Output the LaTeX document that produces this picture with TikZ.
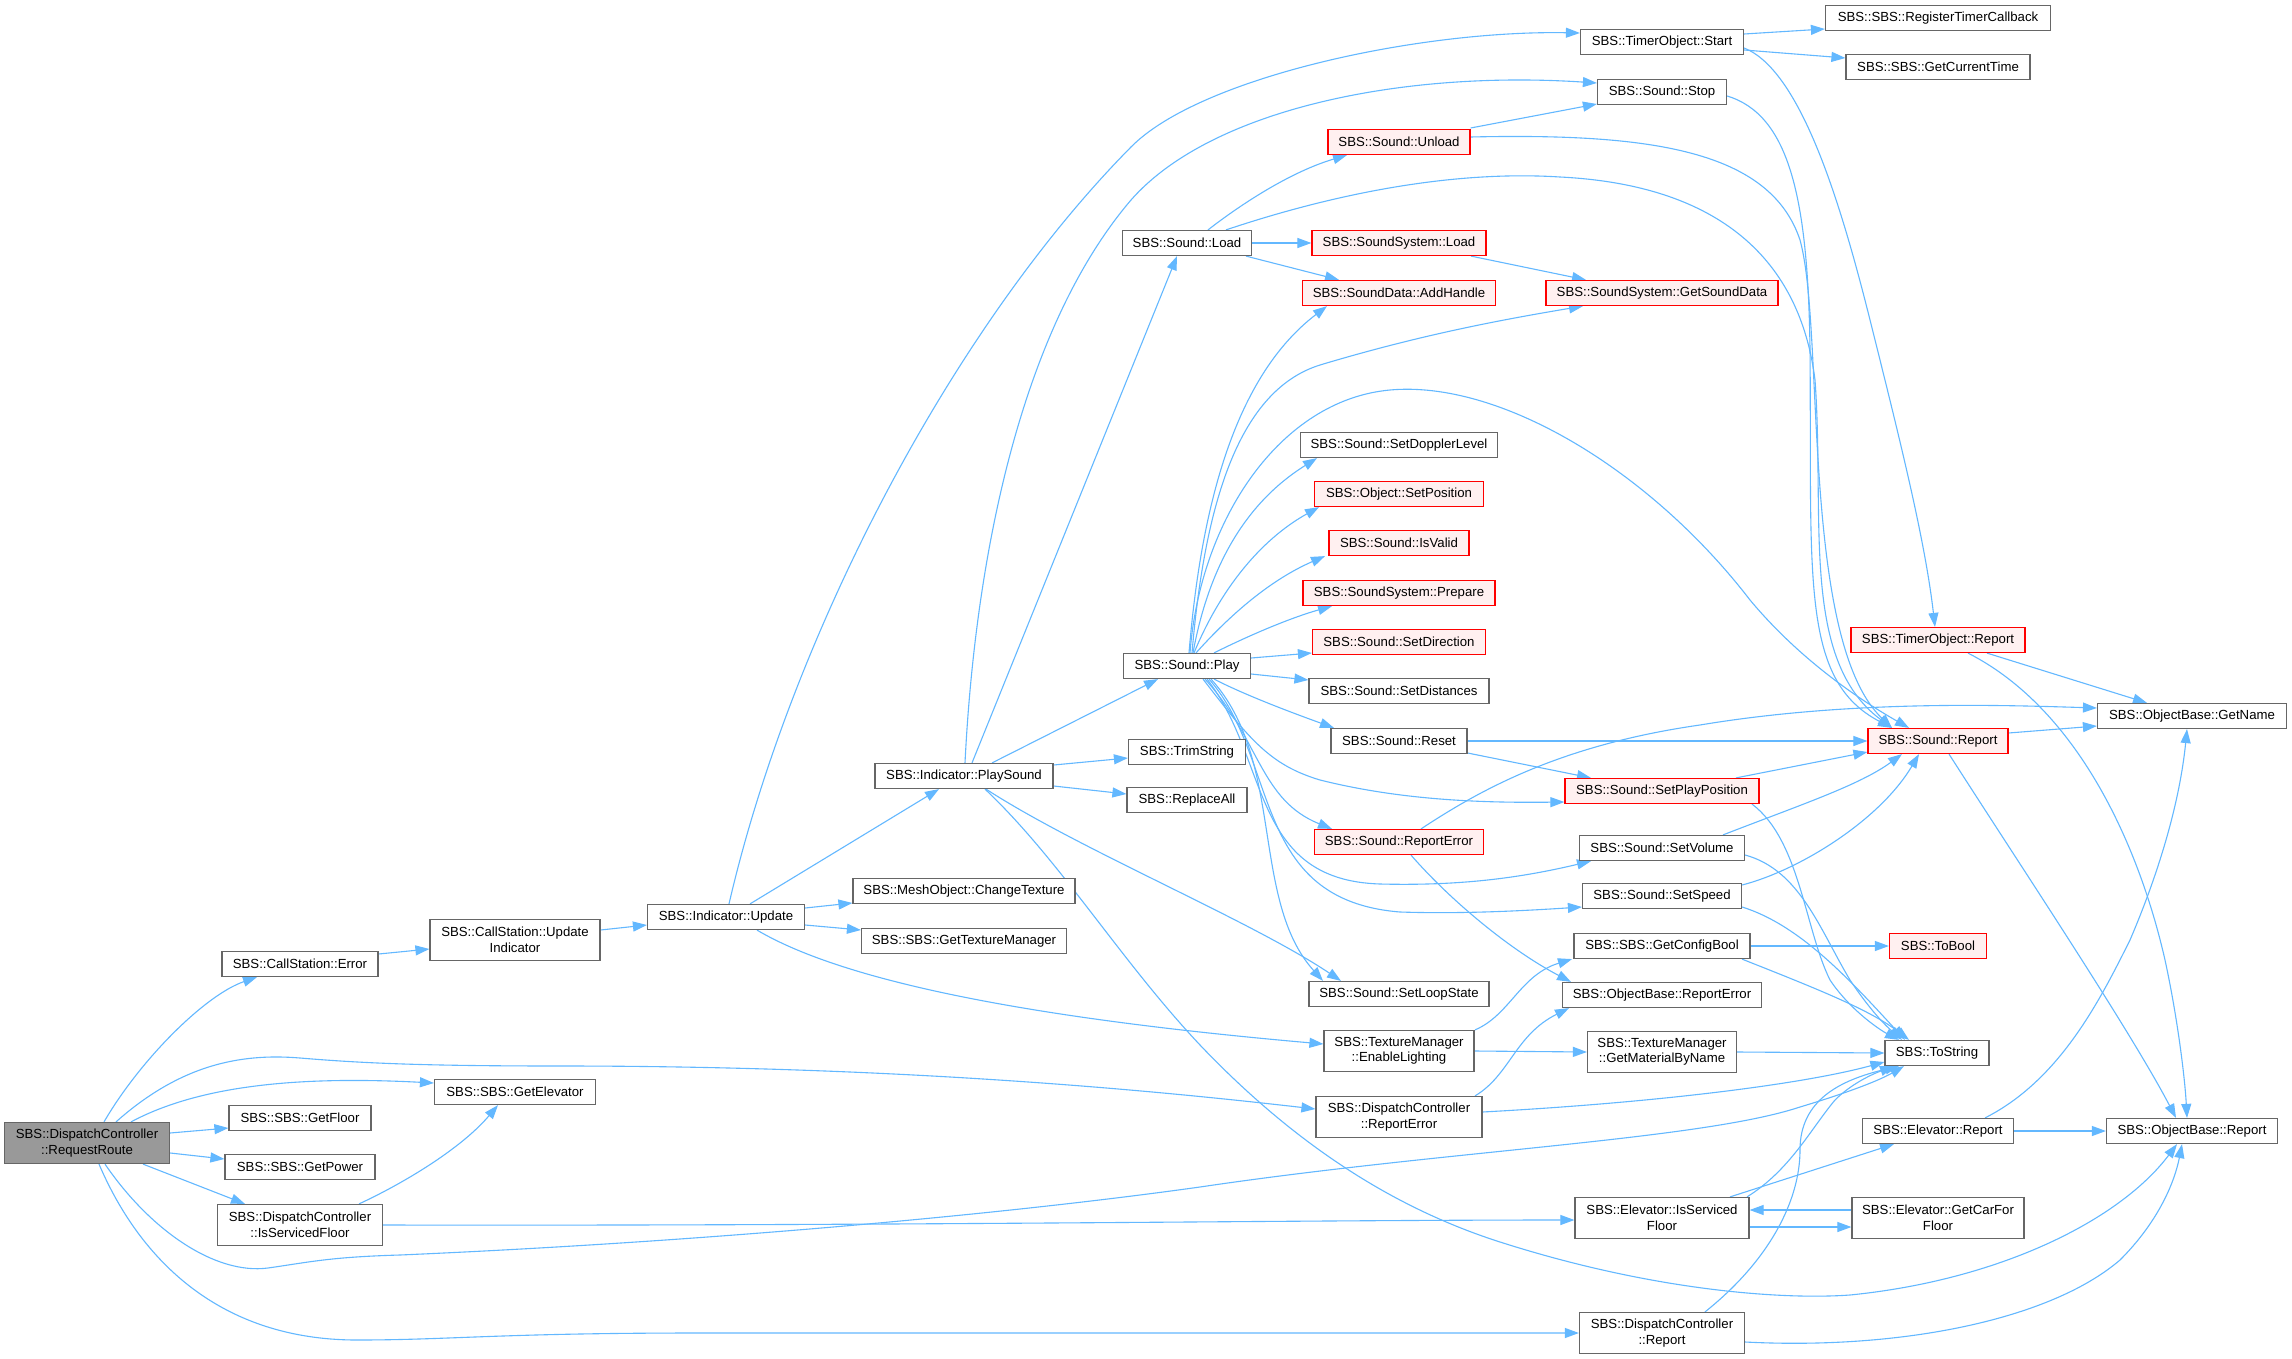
\documentclass[tikz,border=0pt]{standalone}
\usepackage{fontspec}
\setmainfont{Liberation Sans}
\usetikzlibrary{arrows.meta,calc}
\definecolor{edgeblue}{HTML}{63B8FF}
\definecolor{boxgray}{HTML}{666666}
\definecolor{redfill}{HTML}{FFF0F0}
\definecolor{rootfill}{HTML}{999999}
\pgfdeclarelayer{bglayer}
\pgfdeclarelayer{edgelayer}
\pgfsetlayers{bglayer,edgelayer,main}
\tikzset{
  box/.style={rectangle, draw=boxgray, line width=1.2pt, fill=white, inner xsep=2pt, inner ysep=0pt,
    minimum height=25pt, align=center, font=\fontsize{13.2}{15.5}\selectfont, text=black},
  two/.style={minimum height=41pt},
  redbox/.style={draw=red, fill=redfill},
  rootbox/.style={fill=rootfill},
  call/.style={draw=edgeblue, line width=1.1pt, -{Triangle[length=14pt,width=10pt]}}
}
\begin{document}
\begin{tikzpicture}[x=1pt,y=-1pt]
\begin{pgfonlayer}{bglayer}
\fill[white] (0,0) rectangle (2292,1359);
\end{pgfonlayer}
\useasboundingbox (0,0) rectangle (2292,1359);
% column 1
\node[box,two,rootbox,minimum width=165pt] (RR) at (87,1143) {SBS::DispatchController\\::RequestRoute};
% column 2
\node[box,minimum width=156pt] (CSErr) at (300,964) {SBS::CallStation::Error};
\node[box,minimum width=142pt] (GetFloor) at (300,1118) {SBS::SBS::GetFloor};
\node[box,minimum width=150pt] (GetPower) at (300,1167) {SBS::SBS::GetPower};
\node[box,two,minimum width=165pt] (DCIsSF) at (300,1225) {SBS::DispatchController\\::IsServicedFloor};
% column 3
\node[box,two,minimum width=170pt] (CSUpd) at (515,940) {SBS::CallStation::Update\\Indicator};
\node[box,minimum width=161pt] (GetElev) at (515,1092) {SBS::SBS::GetElevator};
% column 4
\node[box,minimum width=157pt] (IndUpd) at (726,917) {SBS::Indicator::Update};
% column 5
\node[box,minimum width=178pt] (PlaySnd) at (964,776) {SBS::Indicator::PlaySound};
\node[box,minimum width=222pt] (ChgTex) at (964,891) {SBS::MeshObject::ChangeTexture};
\node[box,minimum width=205pt] (GetTexMgr) at (964,941) {SBS::SBS::GetTextureManager};
% column 6
\node[box,minimum width=129pt] (SLoad) at (1187,243) {SBS::Sound::Load};
\node[box,minimum width=127pt] (SPlay) at (1187,666) {SBS::Sound::Play};
\node[box,minimum width=117pt] (Trim) at (1187,752) {SBS::TrimString};
\node[box,minimum width=120pt] (Repl) at (1187,800) {SBS::ReplaceAll};
% column 7
\node[box,redbox,minimum width=142pt] (Unload) at (1399,142) {SBS::Sound::Unload};
\node[box,redbox,minimum width=174pt] (SSLoad) at (1399,243) {SBS::SoundSystem::Load};
\node[box,redbox,minimum width=193pt] (AddH) at (1399,293) {SBS::SoundData::AddHandle};
\node[box,minimum width=197pt] (Doppler) at (1399,445) {SBS::Sound::SetDopplerLevel};
\node[box,redbox,minimum width=169pt] (SetPos) at (1399,494) {SBS::Object::SetPosition};
\node[box,redbox,minimum width=140pt] (IsValid) at (1399,543) {SBS::Sound::IsValid};
\node[box,redbox,minimum width=192pt] (Prep) at (1399,593) {SBS::SoundSystem::Prepare};
\node[box,redbox,minimum width=173pt] (SetDir) at (1399,642) {SBS::Sound::SetDirection};
\node[box,minimum width=180pt] (SetDist) at (1399,691) {SBS::Sound::SetDistances};
\node[box,minimum width=136pt] (Reset) at (1399,741) {SBS::Sound::Reset};
\node[box,redbox,minimum width=169pt] (SRepErr) at (1399,842) {SBS::Sound::ReportError};
\node[box,minimum width=180pt] (Loop) at (1399,994) {SBS::Sound::SetLoopState};
\node[box,two,minimum width=150pt] (EnLight) at (1399,1051) {SBS::TextureManager\\::EnableLighting};
\node[box,two,minimum width=166pt] (DCRepErr) at (1399,1117) {SBS::DispatchController\\::ReportError};
% column 8
\node[box,minimum width=163pt] (TStart) at (1662,42) {SBS::TimerObject::Start};
\node[box,minimum width=129pt] (Stop) at (1662,92) {SBS::Sound::Stop};
\node[box,redbox,minimum width=232pt] (GetSD) at (1662,293) {SBS::SoundSystem::GetSoundData};
\node[box,redbox,minimum width=194pt] (SetPP) at (1662,791) {SBS::Sound::SetPlayPosition};
\node[box,minimum width=165pt] (SetVol) at (1662,848) {SBS::Sound::SetVolume};
\node[box,minimum width=159pt] (SetSpd) at (1662,896) {SBS::Sound::SetSpeed};
\node[box,minimum width=176pt] (GetCB) at (1662,946) {SBS::SBS::GetConfigBool};
\node[box,minimum width=199pt] (OBRepErr) at (1662,995) {SBS::ObjectBase::ReportError};
\node[box,two,minimum width=149pt] (GetMat) at (1662,1052) {SBS::TextureManager\\::GetMaterialByName};
\node[box,two,minimum width=174pt] (EIsSF) at (1662,1218) {SBS::Elevator::IsServiced\\Floor};
\node[box,two,minimum width=165pt] (DCRep) at (1662,1333) {SBS::DispatchController\\::Report};
% column 9
\node[box,minimum width=225pt] (RegTC) at (1938,18) {SBS::SBS::RegisterTimerCallback};
\node[box,minimum width=184pt] (GetCT) at (1938,67) {SBS::SBS::GetCurrentTime};
\node[box,redbox,minimum width=174pt] (TRep) at (1938,640) {SBS::TimerObject::Report};
\node[box,redbox,minimum width=140pt] (SRep) at (1938,741) {SBS::Sound::Report};
\node[box,redbox,minimum width=97pt] (ToBool) at (1938,946) {SBS::ToBool};
\node[box,minimum width=104pt] (ToStr) at (1937,1053) {SBS::ToString};
\node[box,minimum width=151pt] (ERep) at (1938,1131) {SBS::Elevator::Report};
\node[box,two,minimum width=172pt] (CarFF) at (1938,1218) {SBS::Elevator::GetCarFor\\Floor};
% column 10
\node[box,minimum width=189pt] (GetName) at (2192,716) {SBS::ObjectBase::GetName};
\node[box,minimum width=171pt] (OBRep) at (2192,1131) {SBS::ObjectBase::Report};

\begin{pgfonlayer}{edgelayer}
% from RequestRoute
\draw[call] ($(RR.north)+(17,0)$) .. controls (140,1060) and (205,995) .. ($(CSErr.south)+(-43,0)$);
\draw[call] ($(RR.east)+(0,-10)$) -- ($(GetFloor.west)+(0,10)$);
\draw[call] ($(RR.east)+(0,10)$) -- ($(GetPower.west)+(0,-8)$);
\draw[call] ($(RR.south)+(56,0)$) -- ($(DCIsSF.north)+(-55,0)$);
\draw[call] ($(RR.north)+(44,0)$) .. controls (200,1085) and (300,1076) .. ($(GetElev.west)+(0,-9)$);
\draw[call] ($(RR.north)+(29,0)$) .. controls (180,1065) and (240,1053) .. (300,1058) .. controls (360,1063) and (420,1066) .. (560,1066) .. controls (900,1066) and (1150,1090) .. ($(DCRepErr.west)+(0,-8)$);
\draw[call] ($(RR.south)+(18,0)$) .. controls (150,1230) and (215,1275) .. (268,1268) .. controls (310,1262) and (330,1257) .. (400,1255) .. controls (700,1242) and (1000,1215) .. (1200,1187) .. controls (1450,1150) and (1700,1140) .. (1800,1107) .. controls (1850,1092) and (1880,1080) .. ($(ToStr.south)+(-33,0)$);
\draw[call] ($(RR.south)+(12,0)$) .. controls (140,1260) and (220,1340) .. (357,1340) .. controls (450,1340) and (500,1333) .. (700,1333) -- (DCRep.west);
% DispatchController::IsServicedFloor
\draw[call] ($(DCIsSF.north)+(59,0)$) .. controls (400,1185) and (460,1150) .. ($(GetElev.south)+(-17,0)$);
\draw[call] (DCIsSF.east) .. controls (900,1226) and (1300,1220) .. ($(EIsSF.west)+(0,2)$);
% CallStation
\draw[call] ($(CSErr.east)+(0,-10)$) -- ($(CSUpd.west)+(0,9)$);
\draw[call] ($(CSUpd.east)+(0,-10)$) -- ($(IndUpd.west)+(0,8)$);
% Indicator::Update
\draw[call] ($(IndUpd.north)+(24,0)$) -- ($(PlaySnd.south)+(-25,0)$);
\draw[call] ($(IndUpd.east)+(0,-9)$) -- ($(ChgTex.west)+(0,12)$);
\draw[call] ($(IndUpd.east)+(0,8)$) -- ($(GetTexMgr.west)+(0,-11)$);
\draw[call] ($(IndUpd.south)+(31,0)$) .. controls (850,985) and (1050,1020) .. ($(EnLight.west)+(0,-7)$);
\draw[call] ($(IndUpd.north)+(3,0)$) .. controls (790,640) and (950,330) .. (1131,147) .. controls (1200,77) and (1420,30) .. ($(TStart.west)+(0,-9)$);
% Indicator::PlaySound
\draw[call] ($(PlaySnd.north)+(1,0)$) .. controls (975,560) and (1020,330) .. (1131,200) .. controls (1210,110) and (1400,70) .. ($(Stop.west)+(0,-9)$);
\draw[call] ($(PlaySnd.north)+(8,0)$) -- ($(SLoad.south)+(-10,0)$);
\draw[call] ($(PlaySnd.north)+(28,0)$) -- ($(SPlay.south)+(-29,0)$);
\draw[call] ($(PlaySnd.east)+(0,-11)$) -- ($(Trim.west)+(0,6)$);
\draw[call] ($(PlaySnd.east)+(0,10)$) -- ($(Repl.west)+(0,-6)$);
\draw[call] ($(PlaySnd.south)+(22,0)$) .. controls (1080,850) and (1250,920) .. ($(Loop.north)+(-58,0)$);
\draw[call] ($(PlaySnd.south)+(21,0)$) .. controls (1060,860) and (1120,960) .. (1200,1045) .. controls (1300,1150) and (1400,1210) .. (1500,1242) .. controls (1650,1290) and (1780,1300) .. (1850,1295) .. controls (2000,1280) and (2120,1220) .. ($(OBRep.south)+(-15,0)$);
% Sound::Load
\draw[call] ($(SLoad.north)+(21,0)$) .. controls (1240,205) and (1290,172) .. ($(Unload.south)+(-52,0)$);
\draw[call] (SLoad.east) -- (SSLoad.west);
\draw[call] ($(SLoad.south)+(59,0)$) -- ($(AddH.north)+(-60,0)$);
\draw[call] ($(SLoad.north)+(39,0)$) .. controls (1330,195) and (1450,170) .. (1560,177) .. controls (1720,185) and (1800,260) .. (1815,380) .. controls (1825,520) and (1800,660) .. ($(SRep.north)+(-46,0)$);
% Sound::Unload / Stop
\draw[call] ($(Unload.east)+(0,-14)$) -- ($(Stop.west)+(0,12)$);
\draw[call] ($(Unload.east)+(0,-5)$) .. controls (1650,133) and (1770,150) .. (1800,240) .. controls (1825,330) and (1800,640) .. ($(SRep.north)+(-46,0)$);
\draw[call] ($(Stop.east)+(0,4)$) .. controls (1790,115) and (1808,200) .. (1810,350) .. controls (1812,580) and (1800,680) .. ($(SRep.north)+(-46,0)$);
% TimerObject::Start
\draw[call] ($(TStart.east)+(0,-8)$) -- ($(RegTC.west)+(0,11)$);
\draw[call] ($(TStart.east)+(0,8)$) -- ($(GetCT.west)+(0,-9)$);
\draw[call] ($(TStart.east)+(0,6)$) .. controls (1800,70) and (1840,200) .. (1870,320) .. controls (1900,440) and (1925,540) .. ($(TRep.north)+(-3,0)$);
% SoundSystem::Load
\draw[call] ($(SSLoad.south)+(72,0)$) -- ($(GetSD.north)+(-76,0)$);
% Sound::Play
\draw[call] ($(SPlay.north)+(2,0)$) .. controls (1200,520) and (1230,380) .. ($(AddH.south)+(-72,0)$);
\draw[call] ($(SPlay.north)+(5,0)$) .. controls (1205,500) and (1240,390) .. (1320,365) .. controls (1420,335) and (1500,320) .. ($(GetSD.south)+(-79,0)$);
\draw[call] ($(SPlay.north)+(3,0)$) .. controls (1200,520) and (1280,400) .. (1390,390) .. controls (1500,380) and (1650,470) .. (1750,600) .. controls (1800,660) and (1860,700) .. ($(SRep.north)+(-29,0)$);
\draw[call] ($(SPlay.north)+(6,0)$) .. controls (1210,560) and (1250,500) .. ($(Doppler.south)+(-82,0)$);
\draw[call] ($(SPlay.north)+(7,0)$) .. controls (1220,590) and (1260,540) .. ($(SetPos.south)+(-80,0)$);
\draw[call] ($(SPlay.north)+(9,0)$) .. controls (1230,615) and (1270,580) .. ($(IsValid.south)+(-74,0)$);
\draw[call] ($(SPlay.north)+(27,0)$) .. controls (1250,635) and (1290,618) .. ($(Prep.south)+(-67,0)$);
\draw[call] ($(SPlay.east)+(0,-8)$) -- ($(SetDir.west)+(0,11)$);
\draw[call] ($(SPlay.east)+(0,8)$) -- ($(SetDist.west)+(0,-11)$);
\draw[call] ($(SPlay.south)+(27,0)$) .. controls (1245,695) and (1290,712) .. ($(Reset.north)+(-65,0)$);
\draw[call] ($(SPlay.south)+(16,0)$) .. controls (1250,740) and (1270,765) .. (1320,780) .. controls (1400,800) and (1480,803) .. ($(SetPP.west)+(0,11)$);
\draw[call] ($(SPlay.south)+(18,0)$) .. controls (1260,740) and (1260,800) .. ($(SRepErr.north)+(-67,0)$);
\draw[call] ($(SPlay.south)+(20,0)$) .. controls (1270,760) and (1250,880) .. (1380,884) .. controls (1460,886) and (1520,878) .. ($(SetVol.south)+(-71,0)$);
\draw[call] ($(SPlay.south)+(22,0)$) .. controls (1280,760) and (1250,900) .. (1400,912) .. controls (1460,914) and (1520,911) .. ($(SetSpd.west)+(0,11)$);
\draw[call] ($(SPlay.south)+(24,0)$) .. controls (1285,760) and (1250,900) .. ($(Loop.north)+(-76,0)$);
% Sound::Reset
\draw[call] (Reset.east) -- (SRep.west);
\draw[call] ($(Reset.east)+(0,12)$) -- ($(SetPP.north)+(-71,0)$);
% SetPlayPosition / SetVolume / SetSpeed
\draw[call] ($(SetPP.north)+(74,0)$) -- ($(SRep.west)+(0,11)$);
\draw[call] ($(SetVol.north)+(61,0)$) .. controls (1800,805) and (1860,785) .. ($(SRep.south)+(-36,0)$);
\draw[call] ($(SetSpd.east)+(0,-11)$) .. controls (1800,870) and (1880,820) .. ($(SRep.south)+(-19,0)$);
\draw[call] ($(SetPP.south)+(90,0)$) .. controls (1800,840) and (1805,930) .. (1830,980) .. controls (1850,1010) and (1880,1030) .. ($(ToStr.north)+(-38,0)$);
\draw[call] ($(SetVol.east)+(0,7)$) .. controls (1800,870) and (1820,930) .. (1850,980) .. controls (1870,1010) and (1885,1025) .. ($(ToStr.north)+(-35,0)$);
\draw[call] ($(SetSpd.east)+(0,11)$) .. controls (1800,925) and (1850,980) .. ($(ToStr.north)+(-32,0)$);
% GetConfigBool / GetMaterialByName
\draw[call] (GetCB.east) -- (ToBool.west);
\draw[call] ($(GetCB.south)+(80,0)$) .. controls (1820,990) and (1870,1010) .. ($(ToStr.north)+(-28,0)$);
\draw[call] (GetMat.east) -- (ToStr.west);
% DispatchController::ReportError
\draw[call] ($(DCRepErr.north)+(76,0)$) .. controls (1510,1075) and (1515,1035) .. ($(OBRepErr.south)+(-93,0)$);
\draw[call] ($(DCRepErr.east)+(0,-5)$) .. controls (1650,1103) and (1800,1085) .. ($(ToStr.west)+(0,9)$);
% EnableLighting
\draw[call] ($(EnLight.north)+(76,0)$) .. controls (1510,1015) and (1520,975) .. ($(GetCB.south)+(-90,0)$);
\draw[call] (EnLight.east) -- (GetMat.west);
% Sound::ReportError
\draw[call] ($(SRepErr.south)+(12,0)$) .. controls (1450,900) and (1510,950) .. ($(OBRepErr.north)+(-91,0)$);
\draw[call] ($(SRepErr.north)+(22,0)$) .. controls (1480,790) and (1560,745) .. (1700,725) .. controls (1850,700) and (2000,705) .. ($(GetName.west)+(0,-8)$);
% TimerObject::Report / Sound::Report
\draw[call] ($(TRep.south)+(49,0)$) -- ($(GetName.north)+(-45,0)$);
\draw[call] ($(TRep.south)+(30,0)$) .. controls (2080,710) and (2140,850) .. (2165,960) .. controls (2178,1020) and (2185,1080) .. ($(OBRep.north)+(-5,0)$);
\draw[call] ($(SRep.east)+(0,-8)$) -- ($(GetName.west)+(0,10)$);
\draw[call] ($(SRep.south)+(11,0)$) .. controls (2020,865) and (2130,1030) .. ($(OBRep.north)+(-16,0)$);
% Elevator
\draw[call] ($(ERep.north)+(47,0)$) .. controls (2060,1080) and (2100,1000) .. (2130,940) .. controls (2160,870) and (2180,800) .. ($(GetName.south)+(-5,0)$);
\draw[call] (ERep.east) -- (OBRep.west);
\draw[call] ($(EIsSF.north)+(68,0)$) -- ($(ERep.south)+(-44,0)$);
\draw[call] ($(EIsSF.north)+(85,0)$) .. controls (1790,1170) and (1810,1130) .. (1835,1100) .. controls (1850,1085) and (1870,1075) .. ($(ToStr.south)+(-43,0)$);
\draw[call] ($(EIsSF.east)+(0,9)$) -- ($(CarFF.west)+(0,9)$);
\draw[call] ($(CarFF.west)+(0,-8)$) -- ($(EIsSF.east)+(0,-8)$);
% DispatchController::Report
\draw[call] ($(DCRep.north)+(43,0)$) .. controls (1770,1260) and (1800,1200) .. (1800,1150) .. controls (1800,1100) and (1840,1080) .. ($(ToStr.south)+(-38,0)$);
\draw[call] ($(DCRep.east)+(0,9)$) .. controls (1900,1350) and (2050,1320) .. (2120,1260) .. controls (2160,1220) and (2175,1180) .. ($(OBRep.south)+(-10,0)$);
\end{pgfonlayer}
\end{tikzpicture}
\end{document}
